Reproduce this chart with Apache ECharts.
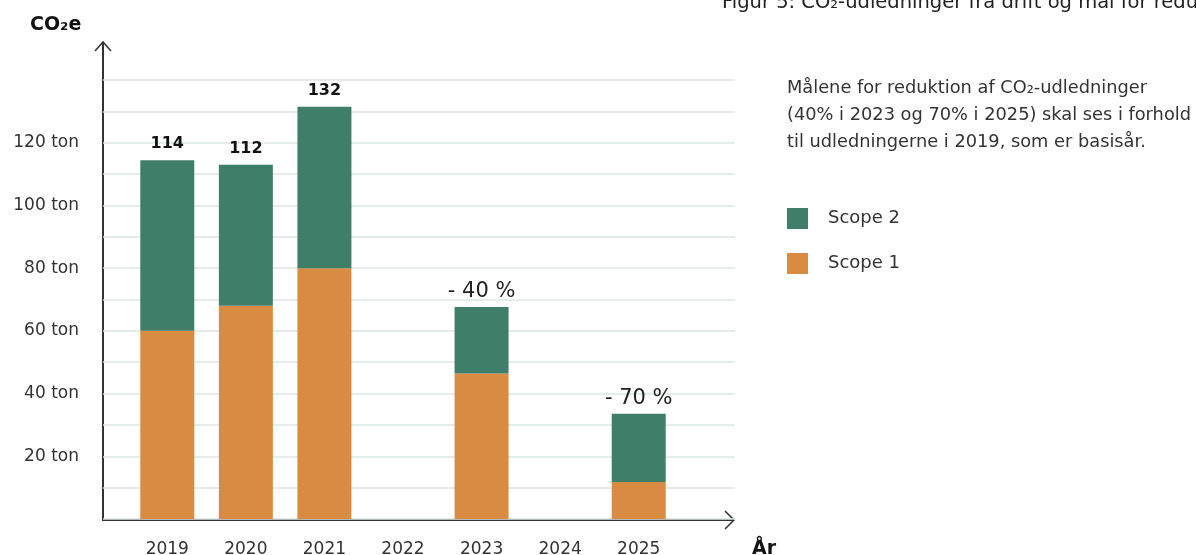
<!DOCTYPE html>
<html>
<head>
<meta charset="utf-8">
<script src="https://cdn.jsdelivr.net/npm/echarts@6/dist/echarts.min.js"></script>
<style>
  html, body { margin: 0; padding: 0; background: #fff; }
  #chart { width: 1196px; height: 555px; }
</style>
</head>
<body>
<div id="chart"></div>
<script>
const years = ['2019', '2020', '2021', '2022', '2023', '2024', '2025'];
const scope1 = [60, 68, 80, null, 46.4, null, 11.8];
const scope2 = [54.4, 45, 51.5, null, 21.2, null, 21.8];
const topLabels = ['114', '112', '132', '', '- 40 %', '', '- 70 %'];
const yTicks = [20, 40, 60, 80, 100, 120];

const FONT = 'DejaVu Sans';
const TXT = '#333333';
const GREEN = '#3f7e69';
const ORANGE = '#d98c41';

const chart = echarts.init(document.getElementById('chart'));

const option = {
    animation: false,
    textStyle: { fontFamily: FONT },
    grid: [
        { left: 128, width: 550, top: 80, height: 439, outerBoundsMode: 'none', containLabel: false },
        { left: 103, width: 632, top: 80, height: 439, outerBoundsMode: 'none', containLabel: false }
    ],
    legend: {
        orient: 'vertical',
        left: 782,
        top: 203,
        itemWidth: 21,
        itemHeight: 21,
        itemGap: 24,
        icon: 'rect',
        data: ['Scope 2', 'Scope 1'],
        textStyle: { fontFamily: FONT, fontSize: 18, color: TXT, padding: [0, 0, 0, 15] }
    },
    xAxis: [
        {
            type: 'category',
            gridIndex: 0,
            data: years,
            axisLine: { show: false },
            axisTick: { show: false },
            axisLabel: { color: TXT, fontSize: 17, margin: 22, fontFamily: FONT }
        },
        { type: 'value', gridIndex: 1, min: 0, max: 1, show: false }
    ],
    yAxis: [
        { type: 'value', gridIndex: 0, min: 0, max: 140, show: false },
        {
            type: 'value',
            gridIndex: 1,
            min: 0,
            max: 140,
            interval: 10,
            axisLine: { show: false },
            axisTick: { show: false },
            splitLine: { lineStyle: { color: '#dde6e2', width: 1.5 } },
            axisLabel: {
                color: TXT,
                fontSize: 17,
                margin: 24,
                fontFamily: FONT,
                formatter: v => (yTicks.includes(v) ? v + ' ton' : '')
            }
        }
    ],
    series: [
        {
            name: 'Scope 1',
            type: 'bar',
            stack: 'co2',
            barWidth: 54,
            itemStyle: { color: ORANGE },
            data: scope1
        },
        {
            name: 'Scope 2',
            type: 'bar',
            stack: 'co2',
            barWidth: 54,
            itemStyle: { color: GREEN },
            data: scope2,
            label: {
                show: true,
                position: 'top',
                distance: 5,
                formatter: p => {
                    const t = topLabels[p.dataIndex];
                    if (!t) return '';
                    return t.includes('%') ? '{p|' + t + '}' : '{b|' + t + '}';
                },
                rich: {
                    b: { fontFamily: FONT, fontSize: 16, fontWeight: 'bold', color: '#111', padding: [0, 0, 3, 0] },
                    p: { fontFamily: FONT, fontSize: 21, color: '#222' }
                }
            }
        }
    ],
    graphic: [
        // axis lines and arrows
        { type: 'line', shape: { x1: 103, y1: 520, x2: 103, y2: 42 }, style: { stroke: TXT, lineWidth: 2 } },
        { type: 'polyline', shape: { points: [[95, 51], [103, 42], [111, 51]] }, style: { stroke: TXT, lineWidth: 1.5, fill: null } },
        { type: 'line', shape: { x1: 102, y1: 520, x2: 734, y2: 520 }, style: { stroke: TXT, lineWidth: 2 } },
        { type: 'polyline', shape: { points: [[725, 511], [734, 520], [725, 529]] }, style: { stroke: TXT, lineWidth: 1.5, fill: null } },
        {
            type: 'text', left: 30, top: 16,
            style: { text: 'CO₂e', fontFamily: FONT, fontSize: 19, fontWeight: 'bold', fill: '#111' }
        },
        {
            type: 'text', left: 752, top: 540,
            style: { text: 'År', fontFamily: FONT, fontSize: 19, fontWeight: 'bold', fill: '#111' }
        },
        {
            type: 'text', x: 722, y: 13,
            style: {
                text: 'Figur 5: CO₂-udledninger fra drift og mål for reduktion',
                fontFamily: FONT, fontSize: 19.5, fill: '#222', verticalAlign: 'bottom'
            }
        },
        {
            type: 'text', left: 787, top: 75,
            style: {
                text: 'Målene for reduktion af CO₂-udledninger\n(40% i 2023 og 70% i 2025) skal ses i forhold\ntil udledningerne i 2019, som er basisår.',
                fontFamily: FONT, fontSize: 17.8, lineHeight: 27, fill: TXT
            }
        }
    ]
};

chart.setOption(option);
</script>
</body>
</html>
